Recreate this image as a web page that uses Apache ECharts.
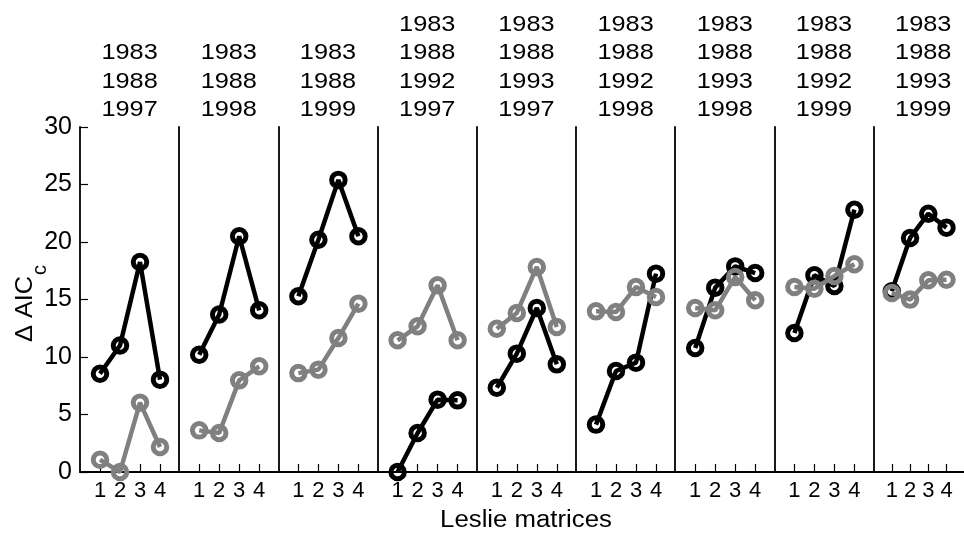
<!DOCTYPE html>
<html>
<head>
<meta charset="utf-8">
<script src="https://cdn.jsdelivr.net/npm/echarts@6/dist/echarts.min.js"></script>
<style>
html,body{margin:0;padding:0;background:#fff;}
#chart{width:964px;height:543px;}
</style>
</head>
<body>
<div id="chart"></div>
<script>
// ---- data ----
const matrices = [1, 2, 3, 4];
const panelTitles = [
  ['1983','1988','1997'],
  ['1983','1988','1998'],
  ['1983','1988','1999'],
  ['1983','1988','1992','1997'],
  ['1983','1988','1993','1997'],
  ['1983','1988','1992','1998'],
  ['1983','1988','1993','1998'],
  ['1983','1988','1992','1999'],
  ['1983','1988','1993','1999']
];
const blackValues = [
  [8.55, 11.0, 18.26, 8.03],
  [10.2, 13.7, 20.5, 14.06],
  [15.28, 20.2, 25.4, 20.5],
  [0, 3.39, 6.29, 6.23],
  [7.33, 10.29, 14.26, 9.36],
  [4.12, 8.78, 9.51, 17.25],
  [10.78, 16.03, 17.88, 17.3],
  [12.09, 17.1, 16.17, 22.81],
  [15.71, 20.35, 22.46, 21.25]
];
const grayValues = [
  [1.07, 0, 6.03, 2.17],
  [3.62, 3.39, 7.97, 9.19],
  [8.6, 8.9, 11.65, 14.64],
  [11.45, 12.67, 16.23, 11.45],
  [12.46, 13.83, 17.83, 12.61],
  [13.97, 13.91, 16.09, 15.22],
  [14.26, 14.06, 16.96, 14.93],
  [16.09, 15.94, 17.04, 18.06],
  [15.57, 14.99, 16.67, 16.72]
];
const yTicks = [0, 5, 10, 15, 20, 25, 30];
const xTitle = 'Leslie matrices';
const yTitleMain = 'Δ AIC';
const yTitleSub = 'c';

// ---- layout ----
const FONT = '"Liberation Sans", Arial, sans-serif';
const plotLeft = 80, plotTop = 127, plotH = 345, panelW = 99.2, unitPx = 20;
const n = panelTitles.length;

const grids = [], xAxes = [], yAxes = [], series = [], graphic = [];
for (let i = 0; i < n; i++) {
  const left = plotLeft + panelW * i;
  grids.push({left: left, top: plotTop, width: panelW, height: plotH, containLabel: false});
  xAxes.push({
    type: 'value', gridIndex: i, min: 0, max: panelW / unitPx,
    axisLine: {show: true, onZero: false, lineStyle: {color: '#000', width: 1.8}},
    axisTick: {show: true, inside: true, length: 8, customValues: matrices, lineStyle: {color: '#000', width: 1.2}},
    axisLabel: {show: true, customValues: matrices, fontSize: 22, color: '#000', fontFamily: FONT, margin: 8},
    splitLine: {show: false}
  });
  yAxes.push({
    type: 'value', gridIndex: i, min: 0, max: 30, interval: 5,
    axisLine: {show: true, lineStyle: {color: '#000', width: 1.8}},
    axisTick: {show: i === 0, inside: true, length: 8, lineStyle: {color: '#000', width: 1.2}},
    axisLabel: {show: i === 0, fontSize: 25, color: '#000', fontFamily: FONT, margin: 8,
      customValues: yTicks},
    splitLine: {show: false}
  });
  const mk = (vals, color, z) => ({
    type: 'line', xAxisIndex: i, yAxisIndex: i, z: z, clip: false,
    data: matrices.map((m, j) => [m, vals[j]]),
    symbol: 'circle', symbolSize: 13.5, showSymbol: true,
    lineStyle: {color: color, width: 4.5},
    itemStyle: {color: 'rgba(255,255,255,0)', borderColor: color, borderWidth: 5},
    emphasis: {disabled: true}, animation: false, silent: true
  });
  series.push(mk(blackValues[i], '#000', 2));
  series.push(mk(grayValues[i], '#808080', 3));

  const lines = panelTitles[i];
  const cx = left + panelW / 2;
  for (let k = 0; k < lines.length; k++) {
    graphic.push({
      type: 'text', x: cx, y: 110 - 28.5 * (lines.length - 1 - k), scaleX: 1.15,
      style: {text: lines[k], fill: '#000', font: '22px ' + FONT, textAlign: 'center', textVerticalAlign: 'middle'},
      silent: true
    });
  }
}
graphic.push({
  type: 'text', x: 526, y: 521, scaleX: 1.12,
  style: {text: xTitle, fill: '#000', font: '23px ' + FONT, textAlign: 'center', textVerticalAlign: 'middle'},
  silent: true
});
graphic.push({
  type: 'text', x: 26, y: 309, rotation: Math.PI / 2, scaleX: 1.1,
  style: {text: yTitleMain, fill: '#000', font: '23px ' + FONT, textAlign: 'center', textVerticalAlign: 'middle'},
  silent: true
});
graphic.push({
  type: 'text', x: 40, y: 270, rotation: Math.PI / 2,
  style: {text: yTitleSub, fill: '#000', font: '20px ' + FONT, textAlign: 'center', textVerticalAlign: 'middle'},
  silent: true
});

const chart = echarts.init(document.getElementById('chart'), null, {renderer: 'canvas'});
chart.setOption({
  backgroundColor: '#fff',
  animation: false,
  grid: grids, xAxis: xAxes, yAxis: yAxes, series: series, graphic: graphic
});
</script>
</body>
</html>
